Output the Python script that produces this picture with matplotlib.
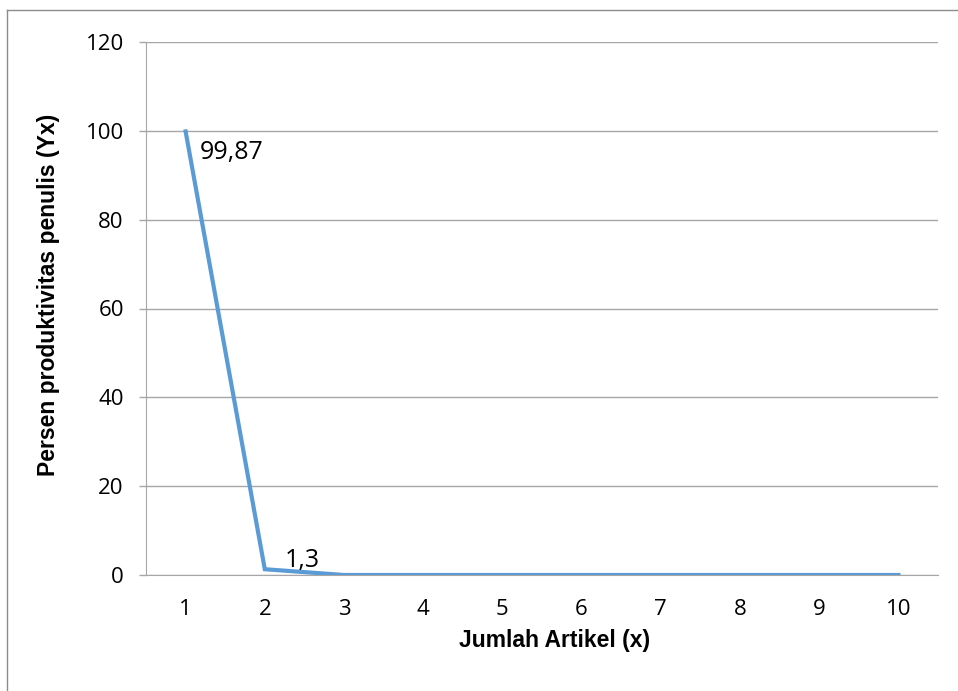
import matplotlib
matplotlib.use("Agg")
import matplotlib.pyplot as plt
from matplotlib.lines import Line2D

# Data
jumlah_artikel = [1, 2, 3, 4, 5, 6, 7, 8, 9, 10]
persen = [99.87, 1.3, 0.0, 0.0, 0.0, 0.0, 0.0, 0.0, 0.0, 0.0]
label_points = {0: "99,87", 1: "1,3"}

LINE = "#5B9BD5"
GRID = "#A6A6A6"
TEXT_FONT = ["Open Sans", "DejaVu Sans"]

fig = plt.figure(figsize=(9.58, 6.91), dpi=100)
fig.patch.set_facecolor("white")
ax = fig.add_axes([146 / 958, 1 - 575 / 691, (938 - 146) / 958, (575 - 42) / 691])

x_pos = list(range(len(jumlah_artikel)))
ax.plot(x_pos, persen, color=LINE, linewidth=3.0, solid_joinstyle="miter")

ax.set_xlim(-0.5, len(jumlah_artikel) - 0.5)
ax.set_ylim(0, 120)
ax.set_yticks(range(0, 121, 20))
ax.set_xticks(x_pos)
ax.set_xticklabels([str(v) for v in jumlah_artikel])

for lab in ax.get_xticklabels() + ax.get_yticklabels():
    lab.set_fontfamily(TEXT_FONT)
    lab.set_fontsize(16)

ax.tick_params(axis="x", length=0, pad=17)
ax.tick_params(axis="y", length=5, width=1, color=GRID, pad=11)

ax.yaxis.grid(True, color=GRID, linewidth=1)
ax.set_axisbelow(True)
for side in ["top", "right"]:
    ax.spines[side].set_visible(False)
ax.spines["left"].set_color(GRID)
ax.spines["bottom"].set_color(GRID)

ax.set_xlabel("Jumlah Artikel (x)", fontsize=16.5, fontweight="bold",
              family="Liberation Sans")
ax.set_ylabel("Persen produktivitas penulis (Yx)", fontsize=16.5, fontweight="bold",
              family="Liberation Sans")
# Excel puts the titles slightly off the plot centre
ax.xaxis.set_label_coords(0.516, -0.101)
ax.yaxis.set_label_coords(-0.108, 0.525)

# data labels
ax.annotate(label_points[0], (0, persen[0]), xytext=(10, -20), textcoords="offset points",
            ha="left", va="baseline", fontsize=18, family=TEXT_FONT)
ax.annotate(label_points[1], (1, persen[1]), xytext=(14, 1.5), textcoords="offset points",
            ha="left", va="baseline", fontsize=18, family=TEXT_FONT)

# outer chart border (only left and top edges are visible)
fig.add_artist(Line2D([7 / 958, 7 / 958], [0, 1 - 10 / 691], transform=fig.transFigure,
                      color="#8C8C8C", linewidth=1))
fig.add_artist(Line2D([7 / 958, 1], [1 - 10 / 691, 1 - 10 / 691], transform=fig.transFigure,
                      color="#8C8C8C", linewidth=1))

fig.savefig("out.png", dpi=100, facecolor="white")
plt.close(fig)
